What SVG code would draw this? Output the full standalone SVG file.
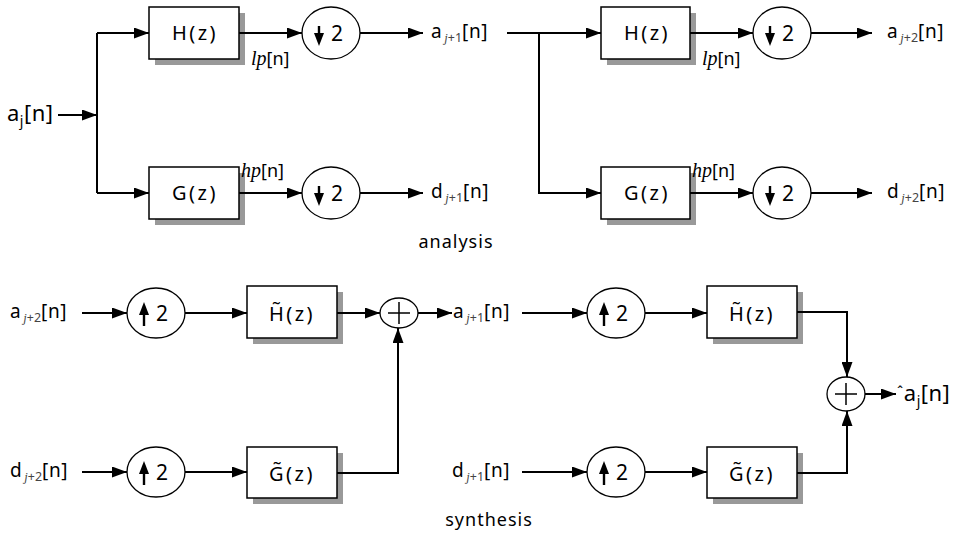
<svg xmlns="http://www.w3.org/2000/svg" xmlns:xlink="http://www.w3.org/1999/xlink" width="955" height="537" viewBox="0 0 955 537">
  <style>
    .wire { fill: none; stroke: #000; stroke-width: 2; }
    .arr { marker-end: url(#head); }
    .box { fill: #fff; stroke: #000; stroke-width: 1.5; }
    .shadow { fill: #999; }
    .ring { fill: #fff; stroke: #000; stroke-width: 1.3; }
    .t { font-family: "Noto Sans", "DejaVu Sans", sans-serif; fill: #000; }
    .blk { font-size: 20px; letter-spacing: 2.5px; }
    .lbl { font-size: 19px; letter-spacing: 0.6px; }
    .sub { font-size: 12.5px; fill: #444; letter-spacing: 0; }
    .mi { font-family: "Liberation Serif", serif; font-style: italic; }
    .lp { font-size: 18px; }
    .lp .mi { font-size: 20px; }
    .cap { font-size: 18px; letter-spacing: 1px; }
  </style>
  <defs>
    <marker id="head" markerUnits="userSpaceOnUse" markerWidth="15" markerHeight="11" refX="15" refY="5.5" orient="auto">
      <path d="M0,0 L15,5.5 L0,11 z" fill="#000"/>
    </marker>
    <!-- decimator symbol: down arrow and "2", drawn around the circle centre -->
    <g id="down2">
      <path d="M-12,-7 V2" stroke="#000" stroke-width="2.4"/>
      <path d="M-17,0 L-7,0 L-12,13 z" fill="#000"/>
      <text class="t" x="0" y="8" font-size="21">2</text>
    </g>
    <!-- expander symbol: up arrow and "2" -->
    <g id="up2">
      <path d="M-12,0 V13" stroke="#000" stroke-width="2.4"/>
      <path d="M-17,2 L-7,2 L-12,-11 z" fill="#000"/>
      <text class="t" x="0" y="8" font-size="21">2</text>
    </g>
    <path id="plus" d="M-11,0 H11 M0,-11 V11" stroke="#000" stroke-width="1.5" fill="none"/>
  </defs>

  <!-- ===== analysis bank ===== -->
  <g id="in-aj">
    <text class="t" x="7" y="121" font-size="22" letter-spacing="0.5">a<tspan font-size="14" dy="5">j</tspan><tspan dy="-5">[n]</tspan></text>
  </g>

  <g id="H1">
    <rect class="shadow" x="155" y="13" width="90" height="52"/>
    <rect class="box" x="149" y="7" width="90" height="52"/>
    <text class="t blk" x="195" y="40" text-anchor="middle">H(z)</text>
  </g>
  <g id="G1">
    <rect class="shadow" x="155" y="173" width="90" height="52"/>
    <rect class="box" x="149" y="167" width="90" height="52"/>
    <text class="t blk" x="195" y="200" text-anchor="middle">G(z)</text>
  </g>
  <g id="D1a">
    <ellipse class="ring" cx="331" cy="33" rx="29" ry="26"/>
    <use xlink:href="#down2" x="331" y="33"/>
  </g>
  <g id="D1b">
    <ellipse class="ring" cx="331" cy="193" rx="29" ry="26"/>
    <use xlink:href="#down2" x="331" y="193"/>
  </g>
  <g id="lbl-lp1"><text class="t lp" x="251" y="65"><tspan class="mi">lp</tspan>[n]</text></g>
  <g id="lbl-hp1"><text class="t lp" x="241" y="177"><tspan class="mi">hp</tspan>[n]</text></g>

  <g id="out-aj1">
    <text class="t lbl" x="431" y="38">a<tspan class="sub" dx="2" dy="4"><tspan class="mi">j</tspan>+1</tspan><tspan dy="-4">[n]</tspan></text>
  </g>
  <g id="out-dj1">
    <text class="t lbl" x="431" y="198">d<tspan class="sub" dx="2" dy="4"><tspan class="mi">j</tspan>+1</tspan><tspan dy="-4">[n]</tspan></text>
  </g>

  <g id="H2">
    <rect class="shadow" x="607" y="13" width="89" height="52"/>
    <rect class="box" x="601" y="7" width="89" height="52"/>
    <text class="t blk" x="647" y="40" text-anchor="middle">H(z)</text>
  </g>
  <g id="G2">
    <rect class="shadow" x="607" y="173" width="89" height="52"/>
    <rect class="box" x="601" y="167" width="89" height="52"/>
    <text class="t blk" x="647" y="200" text-anchor="middle">G(z)</text>
  </g>
  <g id="D2a">
    <ellipse class="ring" cx="782" cy="33" rx="29" ry="26"/>
    <use xlink:href="#down2" x="782" y="33"/>
  </g>
  <g id="D2b">
    <ellipse class="ring" cx="782" cy="193" rx="29" ry="26"/>
    <use xlink:href="#down2" x="782" y="193"/>
  </g>
  <g id="lbl-lp2"><text class="t lp" x="702" y="65"><tspan class="mi">lp</tspan>[n]</text></g>
  <g id="lbl-hp2"><text class="t lp" x="692" y="177"><tspan class="mi">hp</tspan>[n]</text></g>

  <g id="out-aj2">
    <text class="t lbl" x="887" y="38">a<tspan class="sub" dx="2" dy="4"><tspan class="mi">j</tspan>+2</tspan><tspan dy="-4">[n]</tspan></text>
  </g>
  <g id="out-dj2">
    <text class="t lbl" x="887" y="198">d<tspan class="sub" dx="2" dy="4"><tspan class="mi">j</tspan>+2</tspan><tspan dy="-4">[n]</tspan></text>
  </g>

  <g id="cap-analysis"><text class="t cap" x="456" y="248" text-anchor="middle">analysis</text></g>

  <!-- ===== synthesis bank ===== -->
  <g id="in-aj2">
    <text class="t lbl" x="10" y="318">a<tspan class="sub" dx="2" dy="4"><tspan class="mi">j</tspan>+2</tspan><tspan dy="-4">[n]</tspan></text>
  </g>
  <g id="in-dj2">
    <text class="t lbl" x="10" y="477">d<tspan class="sub" dx="2" dy="4"><tspan class="mi">j</tspan>+2</tspan><tspan dy="-4">[n]</tspan></text>
  </g>
  <g id="U1a">
    <ellipse class="ring" cx="156" cy="313" rx="29" ry="25"/>
    <use xlink:href="#up2" x="156" y="313"/>
  </g>
  <g id="U1b">
    <ellipse class="ring" cx="156" cy="472" rx="29" ry="25"/>
    <use xlink:href="#up2" x="156" y="472"/>
  </g>
  <g id="Ht1">
    <rect class="shadow" x="253" y="292" width="90" height="52"/>
    <rect class="box" x="247" y="286" width="90" height="52"/>
    <text class="t blk" x="292" y="321" text-anchor="middle">H&#x303;(z)</text>
  </g>
  <g id="Gt1">
    <rect class="shadow" x="253" y="453" width="90" height="51"/>
    <rect class="box" x="247" y="447" width="90" height="51"/>
    <text class="t blk" x="292" y="481" text-anchor="middle">G&#x303;(z)</text>
  </g>
  <g id="S1">
    <ellipse class="ring" cx="399" cy="313" rx="19" ry="15"/>
    <use xlink:href="#plus" x="399" y="313"/>
  </g>
  <g id="mid-aj1">
    <text class="t lbl" x="453" y="318">a<tspan class="sub" dx="2" dy="4"><tspan class="mi">j</tspan>+1</tspan><tspan dy="-4">[n]</tspan></text>
  </g>
  <g id="mid-dj1">
    <text class="t lbl" x="452" y="477">d<tspan class="sub" dx="2" dy="4"><tspan class="mi">j</tspan>+1</tspan><tspan dy="-4">[n]</tspan></text>
  </g>
  <g id="U2a">
    <ellipse class="ring" cx="616" cy="313" rx="29" ry="25"/>
    <use xlink:href="#up2" x="616" y="313"/>
  </g>
  <g id="U2b">
    <ellipse class="ring" cx="616" cy="472" rx="29" ry="25"/>
    <use xlink:href="#up2" x="616" y="472"/>
  </g>
  <g id="Ht2">
    <rect class="shadow" x="713" y="292" width="90" height="52"/>
    <rect class="box" x="707" y="286" width="90" height="52"/>
    <text class="t blk" x="752" y="321" text-anchor="middle">H&#x303;(z)</text>
  </g>
  <g id="Gt2">
    <rect class="shadow" x="713" y="453" width="90" height="51"/>
    <rect class="box" x="707" y="447" width="90" height="51"/>
    <text class="t blk" x="752" y="481" text-anchor="middle">G&#x303;(z)</text>
  </g>
  <g id="S2">
    <ellipse class="ring" cx="846" cy="394" rx="19" ry="17"/>
    <use xlink:href="#plus" x="846" y="394"/>
  </g>
  <g id="out-ahat">
    <text class="t" x="897" y="401" font-size="22" letter-spacing="0.5"><tspan font-size="15" dy="-4">ˆ</tspan><tspan dy="4">a</tspan><tspan font-size="14" dy="5">j</tspan><tspan dy="-5">[n]</tspan></text>
  </g>

  <g id="cap-synthesis"><text class="t cap" x="489" y="526" text-anchor="middle">synthesis</text></g>

  <!-- ===== connectors ===== -->
  <g id="connectors">
    <path class="wire arr" d="M58,115 H97"/>
    <path class="wire" d="M97,33 V193"/>
    <path class="wire arr" d="M97,33 H149"/>
    <path class="wire arr" d="M97,193 H149"/>
    <path class="wire arr" d="M239,33 H302"/>
    <path class="wire arr" d="M239,193 H302"/>
    <path class="wire arr" d="M360,33 H423"/>
    <path class="wire arr" d="M360,193 H423"/>
    <path class="wire arr" d="M507,33 H601"/>
    <path class="wire arr" d="M539,33 V193 H601"/>
    <path class="wire arr" d="M690,33 H753"/>
    <path class="wire arr" d="M690,193 H753"/>
    <path class="wire arr" d="M811,33 H872"/>
    <path class="wire arr" d="M811,193 H872"/>

    <path class="wire arr" d="M82,313 H127"/>
    <path class="wire arr" d="M82,472 H127"/>
    <path class="wire arr" d="M185,313 H247"/>
    <path class="wire arr" d="M185,472 H247"/>
    <path class="wire arr" d="M337,313 H380"/>
    <path class="wire arr" d="M337,473 H398 V328"/>
    <path class="wire arr" d="M418,313 H452"/>
    <path class="wire arr" d="M522,313 H587"/>
    <path class="wire arr" d="M522,472 H587"/>
    <path class="wire arr" d="M645,313 H707"/>
    <path class="wire arr" d="M645,472 H707"/>
    <path class="wire arr" d="M797,312 H847 V377"/>
    <path class="wire arr" d="M797,473 H847 V411"/>
    <path class="wire arr" d="M865,394 H896"/>
  </g>
</svg>
